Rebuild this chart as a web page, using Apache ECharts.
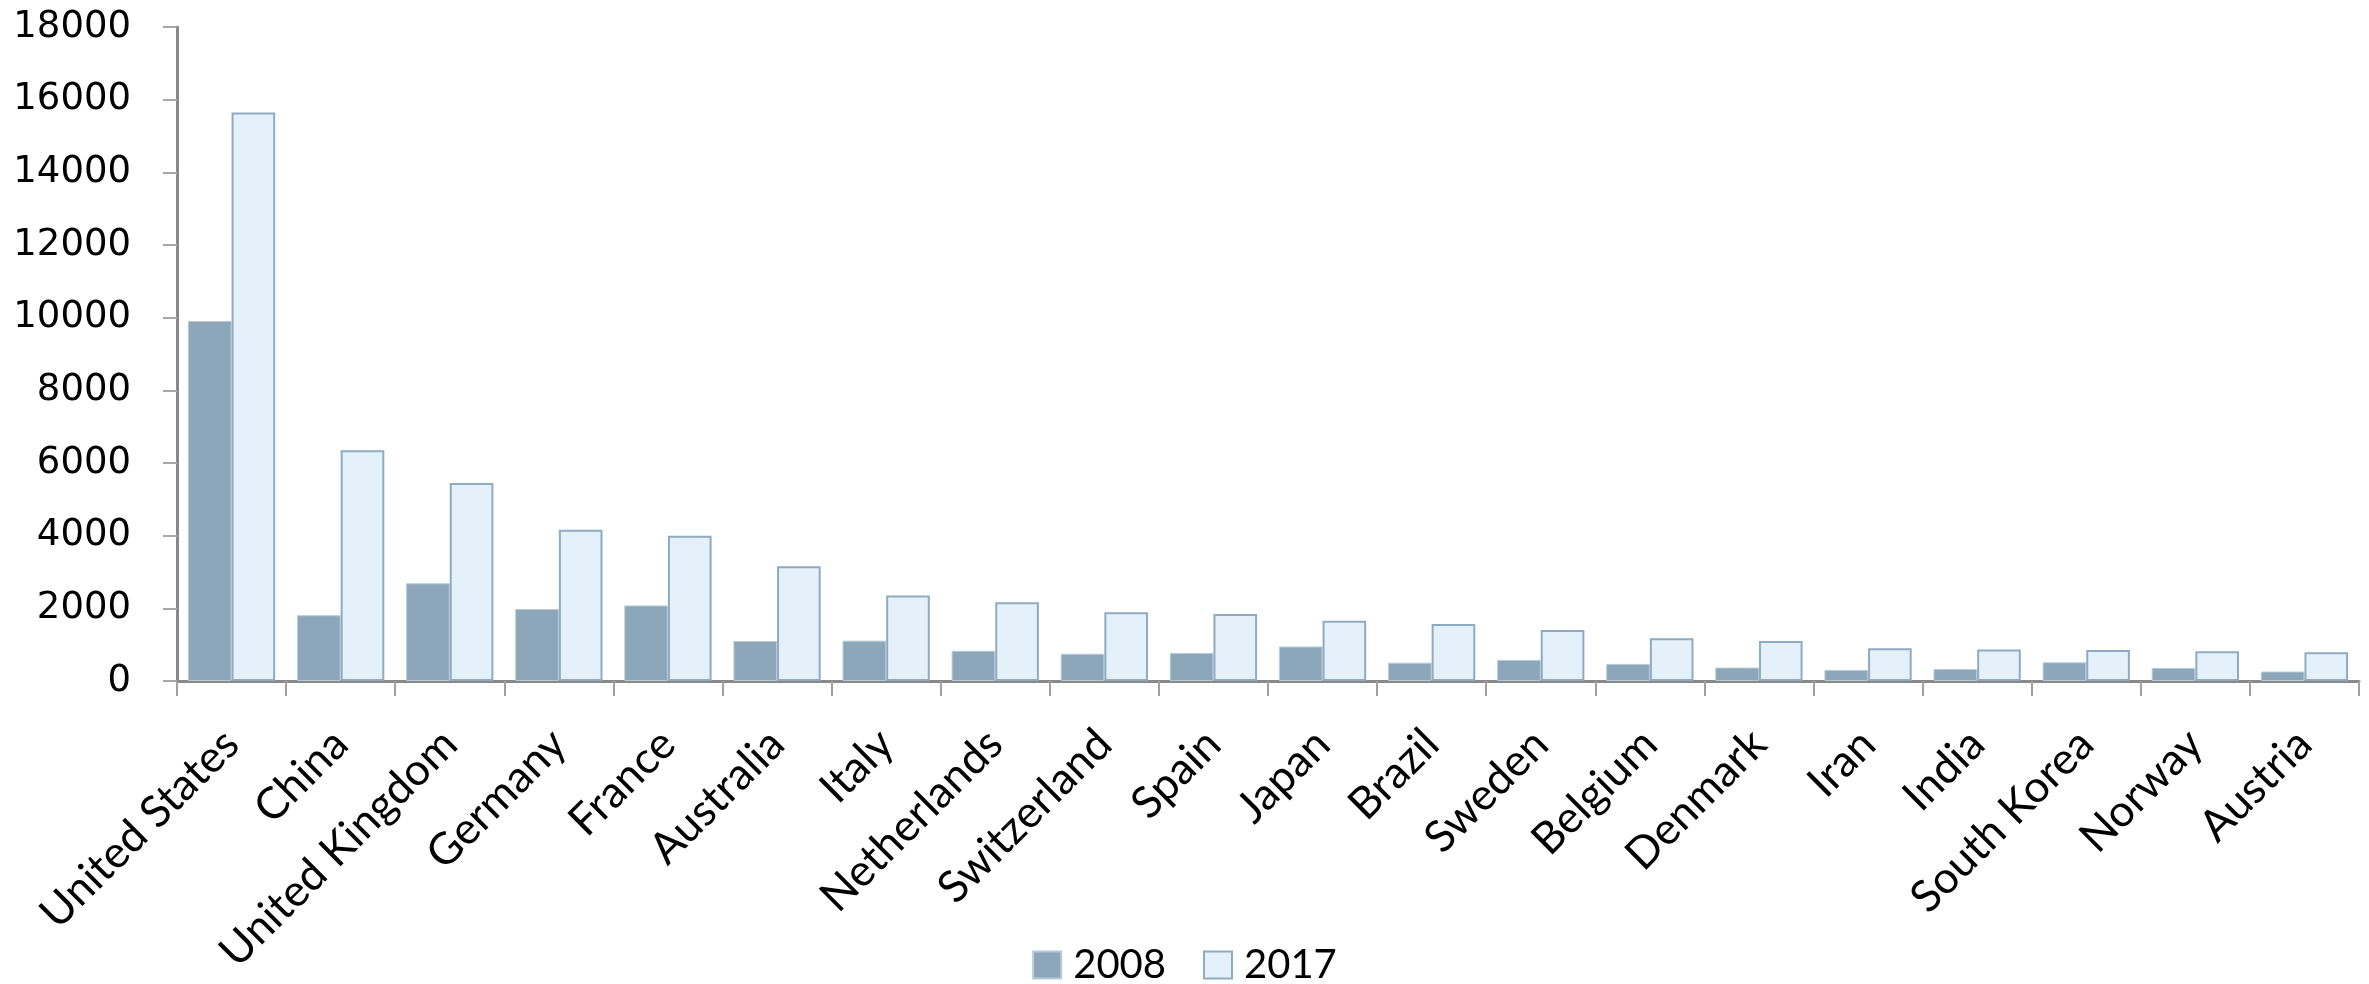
<!DOCTYPE html>
<html>
<head>
<meta charset="utf-8">
<script src="https://cdn.jsdelivr.net/npm/echarts@6/dist/echarts.min.js"></script>
<style>
html,body{margin:0;padding:0;background:#fff;}
#chart{width:2369px;height:984px;}
</style>
</head>
<body>
<div id="chart"></div>
<script>
const categories = ["United States","China","United Kingdom","Germany","France","Australia","Italy","Netherlands","Switzerland","Spain","Japan","Brazil","Sweden","Belgium","Denmark","Iran","India","South Korea","Norway","Austria"];
const values2008 = [9910,1810,2690,1980,2080,1100,1110,830,750,770,950,505,580,470,370,305,330,515,360,260];
const values2017 = [15645,6350,5450,4160,4000,3160,2350,2170,1890,1845,1660,1570,1405,1175,1100,900,865,855,820,790];
const seriesNames = ["2008","2017"];
const yTicks = {min:0, max:18000, interval:2000};

const chart = echarts.init(document.getElementById('chart'));
chart.setOption({
  animation:false,
  backgroundColor:'#ffffff',
  grid:{left:177, right:10, top:27, bottom:303, containLabel:false},
  legend:{
    data:seriesNames,
    top:940,
    left:'center',
    itemWidth:28,
    itemHeight:27,
    itemGap:37,
    icon:'rect',
    textStyle:{fontFamily:'Lato', fontSize:40, color:'#000', padding:[0,0,0,7]}
  },
  xAxis:{
    type:'category',
    data:categories,
    boundaryGap:true,
    axisLine:{lineStyle:{color:'#898989', width:3}},
    axisTick:{show:true, length:15, lineStyle:{color:'#a0a0a0', width:2}},
    axisLabel:{rotate:45, interval:0, margin:56, fontFamily:'Lato', fontSize:44, color:'#000'}
  },
  yAxis:{
    type:'value',
    min:yTicks.min, max:yTicks.max, interval:yTicks.interval,
    axisLine:{show:true, lineStyle:{color:'#898989', width:3}},
    axisTick:{show:true, length:14, lineStyle:{color:'#a8a8a8', width:2}},
    splitLine:{show:false},
    axisLabel:{margin:46, fontFamily:'DejaVu Sans', fontSize:37, color:'#000', formatter:function(v){return String(v);}}
  },
  series:[
    {name:seriesNames[0], type:'bar', data:values2008, barGap:'0%', barCategoryGap:'20%',
     itemStyle:{color:'#8ba7b9', borderColor:'#b9cad6', borderWidth:1}},
    {name:seriesNames[1], type:'bar', data:values2017, barGap:'0%', barCategoryGap:'20%',
     itemStyle:{color:'#e4f0fa', borderColor:'#8eabc1', borderWidth:2}}
  ]
});
</script>
</body>
</html>
